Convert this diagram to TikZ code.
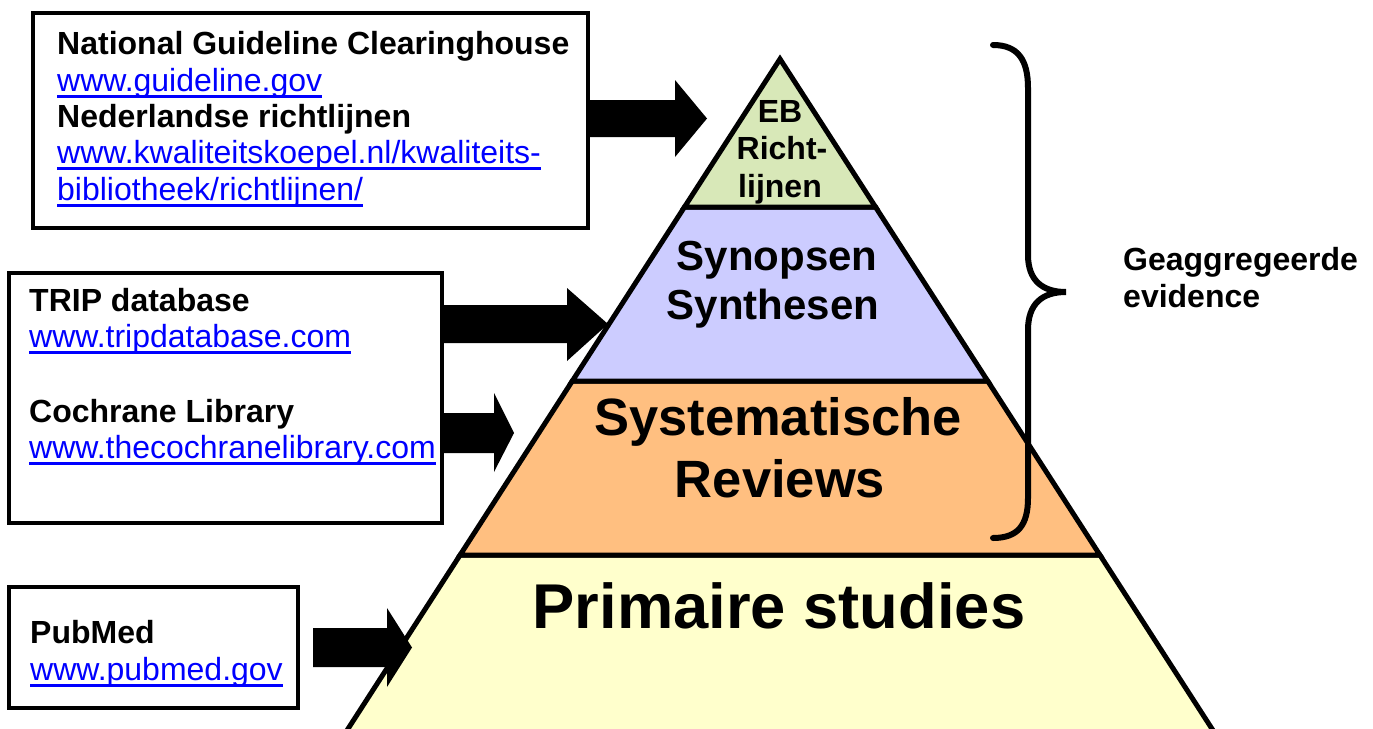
\documentclass[tikz,border=0pt]{standalone}
\usepackage{fontspec}
\setmainfont{Liberation Sans}
\usetikzlibrary{calc}
\definecolor{lvlgreen}{HTML}{D8E8B8}
\definecolor{lvlblue}{HTML}{CCCCFF}
\definecolor{lvlorange}{HTML}{FFBF80}
\definecolor{lvlyellow}{HTML}{FFFFCC}
\definecolor{linkblue}{HTML}{0000FF}
\newsavebox{\lnkbox}
\newcommand{\lnk}[1]{\sbox{\lnkbox}{\color{linkblue}#1}{\color{linkblue}\rlap{\rule[-6.5pt]{\wd\lnkbox}{2.6pt}}\usebox{\lnkbox}}}
\tikzset{
  srcbox/.style={draw, line width=4pt, fill=white, inner sep=0pt, outer sep=0pt},
  boxtxt/.style={anchor=base west, inner sep=0pt, font=\fontsize{32}{37}\selectfont},
  boldtxt/.style={boxtxt, font=\fontsize{32}{37}\selectfont\bfseries},
  lvl/.style={draw, line width=5pt, line join=miter},
  pyrtxt/.style={anchor=base, inner sep=0pt},
  blockarrow/.style={fill=black},
  bracestyle/.style={draw, line width=6pt, line cap=round}
}
\begin{document}
\begin{tikzpicture}[x=1pt, y=-1pt]
\useasboundingbox (0,0) rectangle (1373,728);
\begin{scope}
\clip (0,0) rectangle (1373,728);

% pyramid corners
\coordinate (apex) at (780,59);
\coordinate (l1) at (684.5,207);  \coordinate (r1) at (875.5,207);
\coordinate (l2) at (572.3,381);  \coordinate (r2) at (987.7,381);
\coordinate (l3) at (460.1,555);  \coordinate (r3) at (1099.9,555);
\coordinate (l4) at (340.8,740);  \coordinate (r4) at (1219.2,740);

\path[lvl, fill=lvlyellow] (l3) -- (r3) -- (r4) -- (l4) -- cycle;
\path[lvl, fill=lvlorange] (l2) -- (r2) -- (r3) -- (l3) -- cycle;
\path[lvl, fill=lvlblue] (l1) -- (r1) -- (r2) -- (l2) -- cycle;
\path[lvl, fill=lvlgreen] (apex) -- (r1) -- (l1) -- cycle;

% pyramid texts
\node[pyrtxt, font=\fontsize{32}{37}\selectfont\bfseries] (eb1) at (780,122) {EB};
\node[pyrtxt, font=\fontsize{32}{37}\selectfont\bfseries] (eb2) at (782,159) {Richt-};
\node[pyrtxt, font=\fontsize{32}{37}\selectfont\bfseries] (eb3) at (780,197) {lijnen};
\node[pyrtxt, font=\fontsize{42}{48}\selectfont\bfseries] (syn1) at (777,270) {Synopsen};
\node[pyrtxt, font=\fontsize{42}{48}\selectfont\bfseries] (syn2) at (773,319) {Synthesen};
\node[pyrtxt, font=\fontsize{52.5}{61}\selectfont\bfseries] (sr1) at (778,435) {Systematische};
\node[pyrtxt, font=\fontsize{52.5}{61}\selectfont\bfseries] (sr2) at (780,497) {Reviews};
\node[pyrtxt, font=\fontsize{63.3}{73}\selectfont\bfseries] (ps) at (779,628) {Primaire studies};

% source boxes
\node[srcbox, minimum width=555pt, minimum height=215pt] (b1) at (310.5,120.5) {};
\node[srcbox, minimum width=433pt, minimum height=250pt] (b2) at (225.5,398) {};
\node[srcbox, minimum width=289pt, minimum height=121pt] (b3) at (153.5,647.5) {};

\node[boldtxt] (t11) at (57,54) {National Guideline Clearinghouse};
\node[boxtxt] (t12) at (57,91) {\lnk{www.guideline.gov}};
\node[boldtxt] (t13) at (57,127) {Nederlandse richtlijnen};
\node[boxtxt] (t14) at (57,163) {\lnk{www.kwaliteitskoepel.nl/kwaliteits-}};
\node[boxtxt] (t15) at (57,200) {\lnk{bibliotheek/richtlijnen/}};

\node[boldtxt] (t21) at (29,311) {TRIP database};
\node[boxtxt] (t22) at (29,347) {\lnk{www.tripdatabase.com}};
\node[boldtxt] (t23) at (29,422) {Cochrane Library};
\node[boxtxt] (t24) at (29,458) {\lnk{www.thecochranelibrary.com}};

\node[boldtxt] (t31) at (30,643) {PubMed};
\node[boxtxt] (t32) at (30,680) {\lnk{www.pubmed.gov}};

% block arrows
\coordinate (a1s) at (b1.east |- 0,118.5);
\coordinate (a1t) at (707,118.5);
\fill[blockarrow] ($(a1s)+(0,-18.5)$) -- (675,100) -- (675,80) -- (a1t) -- (675,157) -- (675,137) -- ($(a1s)+(0,18.5)$) -- cycle;

\coordinate (a2s) at (b2.east |- 0,324);
\coordinate (a2t) at (608,324);
\fill[blockarrow] ($(a2s)+(0,-19)$) -- (567,305) -- (567,288) -- (a2t) -- (567,361) -- (567,343) -- ($(a2s)+(0,19)$) -- cycle;

\coordinate (a3s) at (b2.east |- 0,433);
\coordinate (a3t) at (514,433);
\fill[blockarrow] ($(a3s)+(0,-20)$) -- (494,413) -- (494,393) -- (a3t) -- (494,472) -- (494,453) -- ($(a3s)+(0,20)$) -- cycle;

\coordinate (a4s) at (313,647.5);
\coordinate (a4t) at (412,647.5);
\fill[blockarrow] ($(a4s)+(0,-19.5)$) -- (387,628) -- (387,608) -- (a4t) -- (387,687) -- (387,667) -- ($(a4s)+(0,19.5)$) -- cycle;

% brace
\coordinate (brtop) at (993,45);
\coordinate (brtip) at (1066,292);
\coordinate (brbot) at (993,538);
\path[bracestyle] (brtop) .. controls (1018,45) and (1028,60) .. (1028,88) -- (1028,255)
  .. controls (1028,280) and (1042,292) .. (brtip)
  .. controls (1042,292) and (1028,304) .. (1028,330) -- (1028,498)
  .. controls (1028,525) and (1018,538) .. (brbot);

\node[boldtxt] (ge1) at (1123,270) {Geaggregeerde};
\node[boldtxt] (ge2) at (1123,307) {evidence};
\end{scope}
\end{tikzpicture}
\end{document}
